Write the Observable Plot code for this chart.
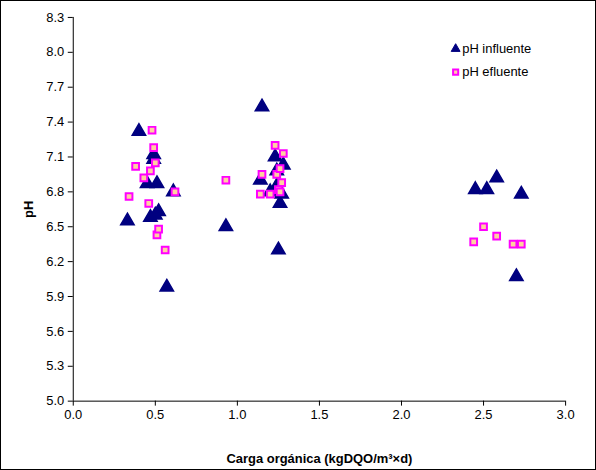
<!DOCTYPE html><html><head><meta charset="utf-8">
<script src="https://cdn.jsdelivr.net/npm/d3@7"></script>
<script src="https://cdn.jsdelivr.net/npm/@observablehq/plot@0.6"></script>
<style>body{margin:0;background:#fff;font-family:"Liberation Sans",Arial,sans-serif}</style>
</head><body><div id="c"></div><script>
const infX=[0.33,0.40,0.45,0.47,0.49,0.49,0.50,0.51,0.52,0.57,0.61,0.93,1.14,1.15,1.20,1.23,1.24,1.25,1.26,1.27,1.28,1.24,2.45,2.52,2.58,2.70,2.73];
const infY=[6.55,7.32,6.87,6.58,7.12,7.08,6.60,6.87,6.63,5.98,6.80,6.50,6.90,7.53,6.80,7.10,6.85,6.30,6.70,6.78,7.03,6.98,6.82,6.82,6.92,6.07,6.78];
const effX=[0.34,0.38,0.43,0.46,0.47,0.48,0.49,0.50,0.51,0.52,0.56,0.62,0.93,1.14,1.15,1.20,1.23,1.24,1.25,1.26,1.27,1.28,1.26,2.44,2.50,2.58,2.68,2.73];
const effY=[6.76,7.02,6.92,6.70,6.98,7.33,7.18,7.05,6.43,6.48,6.30,6.80,6.90,6.78,6.95,6.78,7.20,6.95,6.82,7.00,6.88,7.13,6.80,6.37,6.50,6.42,6.35,6.35];
const xTicks=[0,0.5,1,1.5,2,2.5,3];
const yTicks=[5.0,5.3,5.6,5.9,6.2,6.5,6.8,7.1,7.4,7.7,8.0,8.3];
const inf=infX.map((x,i)=>({x,y:infY[i]}));
const eff=effX.map((x,i)=>({x,y:effY[i]}));
const legend=[{t:"pH influente",s:"triangle",f:"#000080",st:"#000080",yy:8.03},{t:"pH efluente",s:"square",f:"#ffd0a0",st:"#ff00ff",yy:7.83}];
const p=Plot.plot({width:596,height:470,marginLeft:72,marginRight:30,marginTop:16,marginBottom:69,
style:{fontFamily:"Liberation Sans, Arial, sans-serif",fontSize:"13px",color:"#000"},
x:{domain:[0,3]},
y:{domain:[5,8.3]},
marks:[
Plot.ruleX([0],{stroke:"#000"}),Plot.ruleY([5],{stroke:"#000"}),
Plot.axisX({ticks:xTicks,tickFormat:d3.format(".1f"),tickSize:5,label:"Carga orgánica (kgDQO/m³×d)",labelAnchor:"center",labelArrow:"none",labelOffset:62,fontSize:13}),
Plot.axisY({ticks:yTicks,tickFormat:d3.format(".1f"),tickSize:5,label:"pH",labelAnchor:"center",labelArrow:"none",labelOffset:50,fontSize:13}),
Plot.dot(inf,{x:"x",y:"y",symbol:"triangle",r:5,fill:"#000080",stroke:"#000080"}),
Plot.dot(eff,{x:"x",y:"y",symbol:"square",r:3.8,fill:"#ffd0a0",stroke:"#ff00ff",strokeWidth:2}),
Plot.dot(legend,{x:()=>2.33,y:"yy",symbol:"s",fill:"f",stroke:"st",r:d=>d.s=="triangle"?5:3.8,strokeWidth:d=>d.s=="triangle"?1:2}),
Plot.text(legend,{x:()=>2.37,y:"yy",text:"t",textAnchor:"start",fontSize:13})
]});
p.style.border="1px solid #000";p.style.boxSizing="border-box";
p.querySelectorAll("g[aria-label='x-axis label'] text, g[aria-label='y-axis label'] text").forEach(t=>t.setAttribute("font-weight","bold"));
document.getElementById("c").append(p);
</script></body></html>
